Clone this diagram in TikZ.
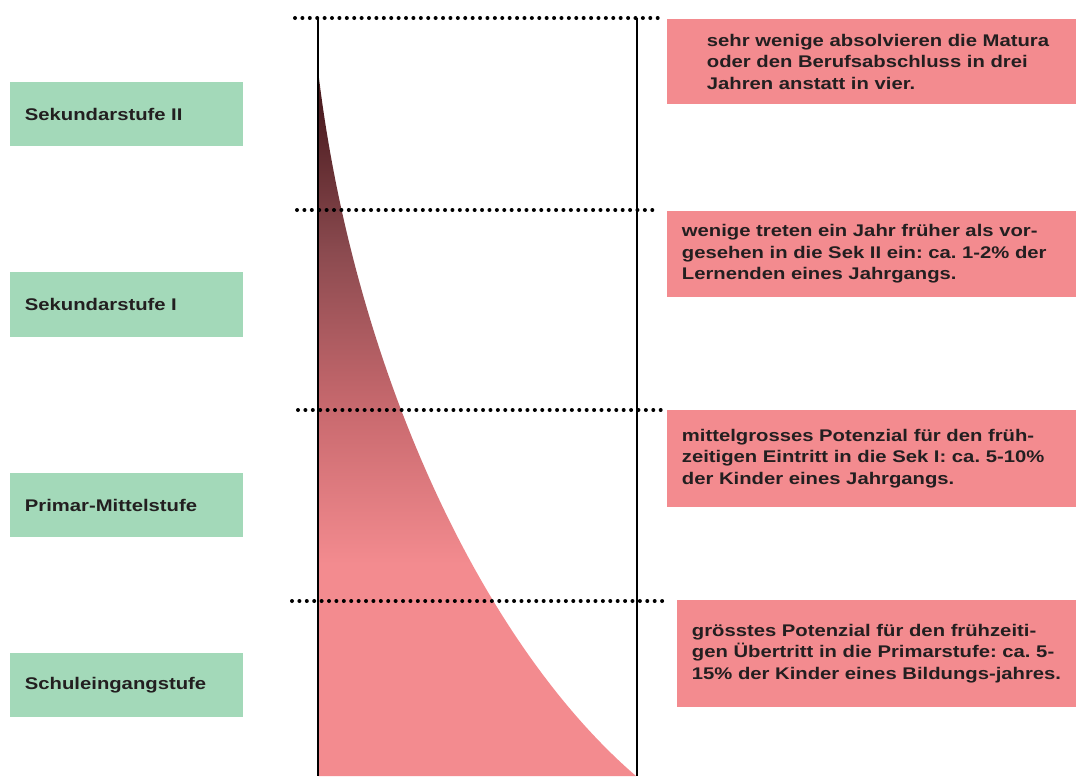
\documentclass[tikz,border=0pt]{standalone}
\usepackage{fontspec}
\setmainfont{Liberation Sans}[FakeStretch=1.2]
\usepackage{tikz}
\usepackage{xcolor}
\usetikzlibrary{positioning}
\frenchspacing
\definecolor{StufeGreen}{HTML}{A3D9B9}
\definecolor{NotePink}{HTML}{F38B8F}
\definecolor{TextDark}{HTML}{231F20}
\definecolor{ShadeMid}{RGB}{200,105,110}
\definecolor{ShadeDark}{RGB}{140,75,80}
\definecolor{ShadeTop}{RGB}{78,30,34}
\pgfdeclareverticalshading{potshade}{100bp}{color(0bp)=(NotePink); color(40bp)=(NotePink); color(51bp)=(ShadeMid); color(62bp)=(ShadeDark); color(72bp)=(ShadeTop); color(100bp)=(ShadeTop)}
\tikzset{
    % Stage boxes on the left
    stufebox/.style={
        rectangle,
        draw=none,
        fill=StufeGreen,
        minimum width=5.825cm,
        minimum height=1.6cm,
        inner xsep=0.375cm,
        text width=5.075cm,
        align=left,
        text=TextDark,
        font=\bfseries\fontsize{12}{15.3}\selectfont
    },
    % Notes on the right
    notebox/.style={
        rectangle,
        draw=none,
        fill=NotePink,
        minimum height=2.125cm,
        inner xsep=0.375cm,
        text width=9.475cm,
        align=left,
        text=TextDark,
        font=\bfseries\fontsize{12}{15.3}\selectfont
    },
    % Lines
    frameline/.style={
        draw=black,
        line width=0.05cm
    },
    dotline/.style={
        draw=black,
        line width=0.1cm,
        line cap=round,
        dash pattern=on 0pt off 0.185cm
    }
}
\begin{document}
\begin{tikzpicture}[x=0.025cm, y=-0.025cm]
            \useasboundingbox (0,0) rectangle (1076,776);

            % Potential curve
            \shade[shading=potshade] (318,70) .. controls (352,360) and (478,640) .. (636,776) -- (318,776) -- cycle;

            % Column
            \draw[frameline] (318,18) -- (318,776);
            \draw[frameline] (637,18) -- (637,776);

            % Stage borders
            \draw[dotline] (295,18) -- (665,18);
            \draw[dotline] (297,210) -- (659,210);
            \draw[dotline] (298,410) -- (665,410);
            \draw[dotline] (292,601) -- (669,601);

            % Stages
            \node[stufebox] (sek2) at (126.5,114) {Sekundarstufe II};
            \node[stufebox] (sek1) at (126.5,304.5) {Sekundarstufe I};
            \node[stufebox] (prim) at (126.5,505) {Primar-Mittelstufe};
            \node[stufebox] (eing) at (126.5,685) {Schuleingangstufe};

            % Notes
            \node[notebox] (note2) at (871.5,61.5) {\hspace*{0.625cm}sehr wenige absolvieren die Matura\\\hspace*{0.625cm}oder den Berufsabschluss in drei\\\hspace*{0.625cm}Jahren anstatt in vier.};
            \node[notebox] (note1) at (871.5,254) {wenige treten ein Jahr früher als vor-\\gesehen in die Sek II ein: ca. 1-2\% der\\Lernenden eines Jahrgangs.};
            \node[notebox,minimum height=2.425cm] (notem) at (871.5,458.5) {mittelgrosses Potenzial für den früh-\\zeitigen Eintritt in die Sek I: ca. 5-10\%\\der Kinder eines Jahrgangs.};
            \node[notebox,minimum height=2.675cm,text width=9.225cm] (notee) at (876.5,653.5) {grösstes Potenzial für den frühzeiti-\\gen Übertritt in die Primarstufe: ca. 5-\\15\% der Kinder eines Bildungs-jahres.};
        \end{tikzpicture}
\end{document}
